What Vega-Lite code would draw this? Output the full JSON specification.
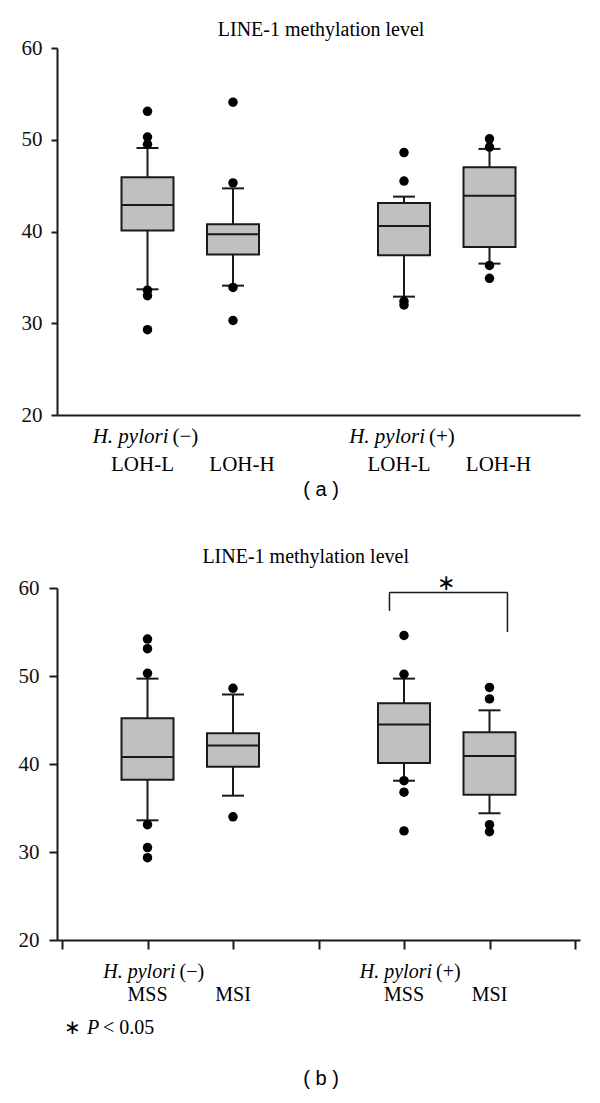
{
  "$schema": "https://vega.github.io/schema/vega-lite/v6.json",
  "padding": {"left": 18, "top": 20, "right": 5, "bottom": 5},
  "background": "white",
  "config": {
    "view": {"stroke": null},
    "font": "Liberation Serif",
    "text": {"color": "black", "font": "Liberation Serif"}
  },
  "datasets": {
    "boxA": [
      {"pos": 1, "q1": 40.1, "med": 42.9, "q3": 45.9, "lo": 33.7, "hi": 49.1},
      {"pos": 2, "q1": 37.5, "med": 39.7, "q3": 40.8, "lo": 34.1, "hi": 44.7},
      {"pos": 4, "q1": 37.4, "med": 40.6, "q3": 43.1, "lo": 32.9, "hi": 43.8},
      {"pos": 5, "q1": 38.3, "med": 43.9, "q3": 47.0, "lo": 36.5, "hi": 49.0}
    ],
    "outA": [
      {"pos": 1, "v": 53.1}, {"pos": 1, "v": 50.3}, {"pos": 1, "v": 49.5}, {"pos": 1, "v": 33.6}, {"pos": 1, "v": 33.0}, {"pos": 1, "v": 29.3},
      {"pos": 2, "v": 54.1}, {"pos": 2, "v": 45.3}, {"pos": 2, "v": 33.9}, {"pos": 2, "v": 30.3},
      {"pos": 4, "v": 48.6}, {"pos": 4, "v": 45.5}, {"pos": 4, "v": 32.4}, {"pos": 4, "v": 32.0},
      {"pos": 5, "v": 50.1}, {"pos": 5, "v": 49.2}, {"pos": 5, "v": 36.3}, {"pos": 5, "v": 34.9}
    ],
    "boxB": [
      {"pos": 1, "q1": 38.2, "med": 40.8, "q3": 45.2, "lo": 33.6, "hi": 49.7},
      {"pos": 2, "q1": 39.7, "med": 42.1, "q3": 43.5, "lo": 36.4, "hi": 47.9},
      {"pos": 4, "q1": 40.1, "med": 44.5, "q3": 46.9, "lo": 38.1, "hi": 49.7},
      {"pos": 5, "q1": 36.5, "med": 40.9, "q3": 43.6, "lo": 34.4, "hi": 46.1}
    ],
    "outB": [
      {"pos": 1, "v": 54.2}, {"pos": 1, "v": 53.1}, {"pos": 1, "v": 50.3}, {"pos": 1, "v": 33.1}, {"pos": 1, "v": 30.5}, {"pos": 1, "v": 29.35},
      {"pos": 2, "v": 48.6}, {"pos": 2, "v": 34.0},
      {"pos": 4, "v": 54.6}, {"pos": 4, "v": 50.2}, {"pos": 4, "v": 38.1}, {"pos": 4, "v": 36.8}, {"pos": 4, "v": 32.4},
      {"pos": 5, "v": 48.7}, {"pos": 5, "v": 47.4}, {"pos": 5, "v": 33.1}, {"pos": 5, "v": 32.3}
    ],
    "labA": [
      {"pos": 1, "lab": "LOH-L", "kind": "L"}, {"pos": 2, "lab": "LOH-H", "kind": "H"},
      {"pos": 4, "lab": "LOH-L", "kind": "L"}, {"pos": 5, "lab": "LOH-H", "kind": "H"}
    ],
    "labB": [
      {"pos": 1, "lab": "MSS"}, {"pos": 2, "lab": "MSI"},
      {"pos": 4, "lab": "MSS"}, {"pos": 5, "lab": "MSI"}
    ],
    "grp": [
      {"pos": 1, "name": "H. pylori", "sign": "(−)"},
      {"pos": 4, "name": "H. pylori", "sign": "(+)"}
    ],
    "bracket": [
      {"x": 3.83, "x2": 5.21, "y": 59.5, "y2": 59.5},
      {"x": 3.83, "x2": 3.83, "y": 59.5, "y2": 57.4},
      {"x": 5.21, "x2": 5.21, "y": 59.5, "y2": 55.0}
    ]
  },
  "vconcat": [
    {
      "width": 523,
      "height": 367,
      "layer": [
        {
          "data": {"name": "boxA"},
          "mark": {"type": "rule", "color": "#1a1a1a", "strokeWidth": 2},
          "encoding": {
            "x": {"field": "pos", "type": "quantitative", "scale": {"domain": [0, 6], "nice": false, "zero": false},
                  "axis": {"title": null, "ticks": false, "labels": false, "grid": false, "domainWidth": 2, "domainColor": "#1a1a1a"}},
            "y": {"field": "lo", "type": "quantitative", "scale": {"domain": [20, 60], "nice": false, "zero": false},
                  "axis": {"title": null, "values": [20, 30, 40, 50, 60], "grid": false, "tickSize": 6, "tickWidth": 2, "tickColor": "#1a1a1a",
                           "domainWidth": 2, "domainColor": "#1a1a1a", "labelFont": "Liberation Serif", "labelFontSize": 21, "labelColor": "#111", "labelPadding": 9}},
            "y2": {"field": "hi"}
          }
        },
        {
          "data": {"name": "boxA"},
          "mark": {"type": "bar", "width": 52, "fill": "#c0c0c0", "stroke": "#1a1a1a", "strokeWidth": 2},
          "encoding": {
            "x": {"field": "pos", "type": "quantitative"},
            "y": {"field": "q1", "type": "quantitative"},
            "y2": {"field": "q3"}
          }
        },
        {
          "data": {"name": "boxA"},
          "mark": {"type": "tick", "orient": "horizontal", "size": 52, "thickness": 2, "color": "#1a1a1a", "opacity": 1},
          "encoding": {"x": {"field": "pos", "type": "quantitative"}, "y": {"field": "med", "type": "quantitative"}}
        },
        {
          "data": {"name": "boxA"},
          "mark": {"type": "tick", "orient": "horizontal", "size": 22, "thickness": 2, "color": "#1a1a1a", "opacity": 1},
          "encoding": {"x": {"field": "pos", "type": "quantitative"}, "y": {"field": "lo", "type": "quantitative"}}
        },
        {
          "data": {"name": "boxA"},
          "mark": {"type": "tick", "orient": "horizontal", "size": 22, "thickness": 2, "color": "#1a1a1a", "opacity": 1},
          "encoding": {"x": {"field": "pos", "type": "quantitative"}, "y": {"field": "hi", "type": "quantitative"}}
        },
        {
          "data": {"name": "outA"},
          "mark": {"type": "point", "filled": true, "color": "black", "size": 90, "opacity": 1},
          "encoding": {"x": {"field": "pos", "type": "quantitative"}, "y": {"field": "v", "type": "quantitative"}}
        },
        {
          "data": {"values": [{"t": "LINE-1 methylation level"}]},
          "mark": {"type": "text", "fontSize": 20, "baseline": "middle", "align": "center"},
          "encoding": {"x": {"datum": 3.03}, "y": {"datum": 61.96}, "text": {"field": "t"}}
        },
        {
          "data": {"name": "grp"},
          "mark": {"type": "text", "fontSize": 21, "fontStyle": "italic", "baseline": "middle", "align": "right", "dx": 21},
          "encoding": {"x": {"field": "pos", "type": "quantitative"}, "y": {"datum": 17.6}, "text": {"field": "name"}}
        },
        {
          "data": {"name": "grp"},
          "mark": {"type": "text", "fontSize": 21, "baseline": "middle", "align": "left", "dx": 25},
          "encoding": {"x": {"field": "pos", "type": "quantitative"}, "y": {"datum": 17.6}, "text": {"field": "sign"}}
        },
        {
          "data": {"name": "labA"},
          "transform": [{"filter": "datum.kind === 'L'"}],
          "mark": {"type": "text", "fontSize": 21, "baseline": "middle", "align": "center", "dx": -5},
          "encoding": {"x": {"field": "pos", "type": "quantitative"}, "y": {"datum": 14.55}, "text": {"field": "lab"}}
        },
        {
          "data": {"name": "labA"},
          "transform": [{"filter": "datum.kind === 'H'"}],
          "mark": {"type": "text", "fontSize": 21, "baseline": "middle", "align": "center", "dx": 9},
          "encoding": {"x": {"field": "pos", "type": "quantitative"}, "y": {"datum": 14.55}, "text": {"field": "lab"}}
        },
        {
          "data": {"values": [{"t": "( a )"}]},
          "mark": {"type": "text", "font": "Liberation Sans", "fontSize": 20, "baseline": "middle", "align": "center"},
          "encoding": {"x": {"datum": 3.03}, "y": {"datum": 11.8}, "text": {"field": "t"}}
        }
      ]
    },
    {
      "width": 523,
      "height": 352,
      "layer": [
        {
          "data": {"name": "boxB"},
          "mark": {"type": "rule", "color": "#1a1a1a", "strokeWidth": 2},
          "encoding": {
            "x": {"field": "pos", "type": "quantitative", "scale": {"domain": [0, 6], "nice": false, "zero": false},
                  "axis": {"title": null, "values": [0, 1, 2, 3, 4, 5, 6], "labels": false, "tickSize": 9, "tickWidth": 2, "tickColor": "#1a1a1a", "grid": false, "domainWidth": 2, "domainColor": "#1a1a1a"}},
            "y": {"field": "lo", "type": "quantitative", "scale": {"domain": [20, 60], "nice": false, "zero": false},
                  "axis": {"title": null, "values": [20, 30, 40, 50, 60], "grid": false, "tickSize": 8, "tickWidth": 2, "tickColor": "#1a1a1a",
                           "domainWidth": 2, "domainColor": "#1a1a1a", "labelFont": "Liberation Serif", "labelFontSize": 21, "labelColor": "#111", "labelPadding": 10}},
            "y2": {"field": "hi"}
          }
        },
        {
          "data": {"name": "boxB"},
          "mark": {"type": "bar", "width": 52, "fill": "#c0c0c0", "stroke": "#1a1a1a", "strokeWidth": 2},
          "encoding": {
            "x": {"field": "pos", "type": "quantitative"},
            "y": {"field": "q1", "type": "quantitative"},
            "y2": {"field": "q3"}
          }
        },
        {
          "data": {"name": "boxB"},
          "mark": {"type": "tick", "orient": "horizontal", "size": 52, "thickness": 2, "color": "#1a1a1a", "opacity": 1},
          "encoding": {"x": {"field": "pos", "type": "quantitative"}, "y": {"field": "med", "type": "quantitative"}}
        },
        {
          "data": {"name": "boxB"},
          "mark": {"type": "tick", "orient": "horizontal", "size": 22, "thickness": 2, "color": "#1a1a1a", "opacity": 1},
          "encoding": {"x": {"field": "pos", "type": "quantitative"}, "y": {"field": "lo", "type": "quantitative"}}
        },
        {
          "data": {"name": "boxB"},
          "mark": {"type": "tick", "orient": "horizontal", "size": 22, "thickness": 2, "color": "#1a1a1a", "opacity": 1},
          "encoding": {"x": {"field": "pos", "type": "quantitative"}, "y": {"field": "hi", "type": "quantitative"}}
        },
        {
          "data": {"name": "outB"},
          "mark": {"type": "point", "filled": true, "color": "black", "size": 90, "opacity": 1},
          "encoding": {"x": {"field": "pos", "type": "quantitative"}, "y": {"field": "v", "type": "quantitative"}}
        },
        {
          "data": {"name": "bracket"},
          "mark": {"type": "rule", "color": "#1a1a1a", "strokeWidth": 1.5},
          "encoding": {
            "x": {"field": "x", "type": "quantitative"}, "x2": {"field": "x2"},
            "y": {"field": "y", "type": "quantitative"}, "y2": {"field": "y2"}
          }
        },
        {
          "data": {"values": [{"t": "∗"}]},
          "mark": {"type": "text", "fontSize": 22, "baseline": "middle", "align": "center"},
          "encoding": {"x": {"datum": 4.49}, "y": {"datum": 60.57}, "text": {"field": "t"}}
        },
        {
          "data": {"values": [{"t": "LINE-1 methylation level"}]},
          "mark": {"type": "text", "fontSize": 20, "baseline": "middle", "align": "center"},
          "encoding": {"x": {"datum": 2.85}, "y": {"datum": 63.5}, "text": {"field": "t"}}
        },
        {
          "data": {"name": "grp"},
          "mark": {"type": "text", "fontSize": 20, "fontStyle": "italic", "baseline": "middle", "align": "right", "dx": 28},
          "encoding": {"x": {"field": "pos", "type": "quantitative"}, "y": {"datum": 16.36}, "text": {"field": "name"}}
        },
        {
          "data": {"name": "grp"},
          "mark": {"type": "text", "fontSize": 20, "baseline": "middle", "align": "left", "dx": 32},
          "encoding": {"x": {"field": "pos", "type": "quantitative"}, "y": {"datum": 16.36}, "text": {"field": "sign"}}
        },
        {
          "data": {"name": "labB"},
          "mark": {"type": "text", "fontSize": 20, "baseline": "middle", "align": "center"},
          "encoding": {"x": {"field": "pos", "type": "quantitative"}, "y": {"datum": 13.75}, "text": {"field": "lab"}}
        },
        {
          "data": {"values": [{"t": "∗"}]},
          "mark": {"type": "text", "fontSize": 20, "baseline": "middle", "align": "left", "dx": 2},
          "encoding": {"x": {"datum": 0}, "y": {"datum": 10.0}, "text": {"field": "t"}}
        },
        {
          "data": {"values": [{"t": "P"}]},
          "mark": {"type": "text", "fontSize": 20, "fontStyle": "italic", "baseline": "middle", "align": "left", "dx": 25},
          "encoding": {"x": {"datum": 0}, "y": {"datum": 10.0}, "text": {"field": "t"}}
        },
        {
          "data": {"values": [{"t": "< 0.05"}]},
          "mark": {"type": "text", "fontSize": 20, "baseline": "middle", "align": "left", "dx": 41},
          "encoding": {"x": {"datum": 0}, "y": {"datum": 10.0}, "text": {"field": "t"}}
        },
        {
          "data": {"values": [{"t": "( b )"}]},
          "mark": {"type": "text", "font": "Liberation Sans", "fontSize": 20, "baseline": "middle", "align": "center"},
          "encoding": {"x": {"datum": 3.03}, "y": {"datum": 4.2}, "text": {"field": "t"}}
        }
      ]
    }
  ],
  "bounds": "flush",
  "spacing": 173
}
